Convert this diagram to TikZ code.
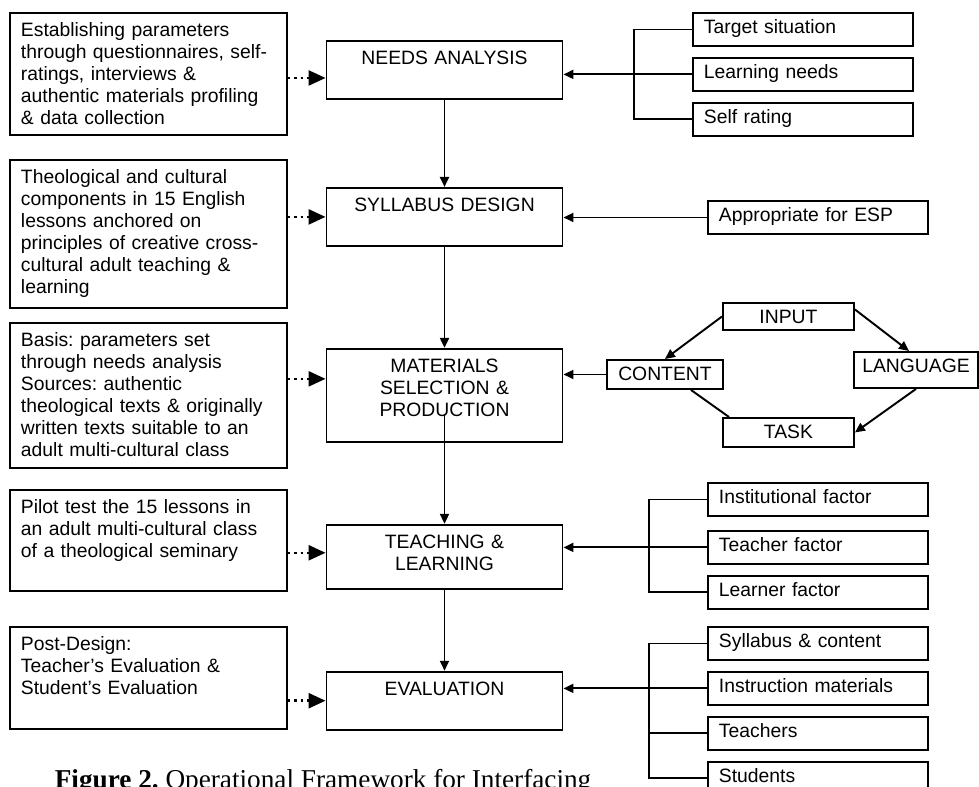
\documentclass[tikz,border=0pt]{standalone}
\usepackage{fontspec}
\setmainfont{Liberation Sans}
\newfontfamily\captionserif{Liberation Serif}
\usetikzlibrary{arrows.meta, positioning}
\frenchspacing

\begin{document}
\begin{tikzpicture}[
  line width=1.1pt,
  every node/.style={font=\fontsize{11}{12.5}\selectfont},
  stagebox/.style={draw, text width=4.3cm, align=center, inner xsep=0.21cm,
                   inner ysep=0pt, text height=0.47cm, anchor=north},
  notebox/.style={draw, text width=5.1cm, align=left, inner xsep=0.22cm,
                  inner ysep=0pt, text height=0.48cm, anchor=north west},
  itembox/.style={draw, text width=3.96cm, align=left, inner xsep=0.22cm,
                  inner ysep=0pt, text height=0.42cm, text depth=0.24cm,
                  anchor=north west},
  cycbox/.style={draw, align=center, inner ysep=0pt, text height=0.42cm,
                 anchor=north west},
  arr/.style={-{Triangle[length=0.2cm, width=0.18cm]}},
  dotarr/.style={line width=1.4pt, dash pattern=on 1.4pt off 2.2pt,
                 -{Triangle[length=0.34cm, width=0.3cm]}}
]
\clip (0,0) rectangle (19.58,-15.72);

% main stages
\node[stagebox, text depth=0.69cm] (N1) at (8.89,-0.80) {NEEDS ANALYSIS};
\node[stagebox, text depth=0.69cm, below=1.74cm of N1] (N2) {SYLLABUS DESIGN};
\node[stagebox, text depth=1.39cm, below=2.02cm of N2] (N3) {MATERIALS\\ SELECTION \&\\ PRODUCTION};
\node[stagebox, text depth=0.81cm, below=1.62cm of N3] (N4) {TEACHING \&\\ LEARNING};
\node[stagebox, text depth=0.69cm, below=1.62cm of N4] (N5) {EVALUATION};

% notes on the left
\node[notebox, text depth=1.96cm] (L1) at (0.18,-0.24)
  {Establishing parameters\\ through questionnaires, self-\\ ratings, interviews \&\\ authentic materials profiling\\ \& data collection};
\node[notebox, text depth=2.48cm] (L2) at (0.18,-3.18)
  {Theological and cultural\\ components in 15 English\\ lessons anchored on\\ principles of creative cross-\\ cultural adult teaching \&\\ learning};
\node[notebox, text depth=2.42cm] (L3) at (0.18,-6.44)
  {Basis: parameters set\\ through needs analysis\\ Sources: authentic\\ theological texts \& originally\\ written texts suitable to an\\ adult multi-cultural class};
\node[notebox, text depth=1.54cm] (L4) at (0.18,-9.78)
  {Pilot test the 15 lessons in\\ an adult multi-cultural class\\ of a theological seminary};
\node[notebox, text depth=1.56cm] (L5) at (0.18,-12.52)
  {Post-Design:\\ Teacher's Evaluation \&\\ Student's Evaluation};

% items on the right
\node[itembox] (Tgt) at (13.84,-0.24) {Target situation};
\node[itembox, below=0.2cm of Tgt] (Learn) {Learning needs};
\node[itembox, below=0.2cm of Learn] (Self) {Self rating};
\node[itembox] (ESP) at (14.14,-4.00) {Appropriate for ESP};
\node[itembox] (Inst) at (14.14,-9.64) {Institutional factor};
\node[itembox, below=0.26cm of Inst] (Tchf) {Teacher factor};
\node[itembox, below=0.2cm of Tchf] (Lrn) {Learner factor};
\node[itembox] (Syll) at (14.14,-12.52) {Syllabus \& content};
\node[itembox, below=0.2cm of Syll] (Instr) {Instruction materials};
\node[itembox, below=0.2cm of Instr] (Tchs) {Teachers};
\node[itembox, below=0.2cm of Tchs] (Stud) {Students};

% materials cycle
\node[cycbox, minimum width=2.62cm, text depth=0.12cm] (In) at (14.44,-6.04) {INPUT};
\node[cycbox, minimum width=2.32cm, text depth=0.16cm] (Cont) at (12.12,-7.18) {CONTENT};
\node[cycbox, minimum width=2.48cm, text depth=0.30cm] (Lang) at (17.06,-7.02) {LANGUAGE};
\node[cycbox, minimum width=2.62cm, text depth=0.16cm] (Task) at (14.44,-8.34) {TASK};

\coordinate (nb) at (12.68,0);
\coordinate (tb) at (12.98,0);

% flow down the middle
\draw[arr] (N1.south) -- (N2.north);
\draw[arr] (N2.south) -- (N3.north);
\draw[arr] ([yshift=0.58cm]N3.south) -- (N4.north);
\draw[arr] (N4.south) -- (N5.north);

% dotted links from the notes
\draw[dotarr] ([yshift=-0.16cm]N1.west -| L1.east) -- ([yshift=-0.16cm]N1.west);
\draw[dotarr] (N2.west -| L2.east) -- (N2.west);
\draw[dotarr] ([yshift=0.33cm]N3.west -| L3.east) -- ([yshift=0.33cm]N3.west);
\draw[dotarr] ([yshift=0.08cm]N4.west -| L4.east) -- ([yshift=0.08cm]N4.west);
\draw[dotarr] (N5.west -| L5.east) -- (N5.west);

% brackets on the right
\draw (Tgt.west) -- (Tgt.west -| nb) -- (Self.west -| nb) -- (Self.west);
\draw[arr] (Learn.west) -- (Learn.west -| N1.east);
\draw[arr] (ESP.west) -- (ESP.west -| N2.east);
\draw[arr] (Cont.west) -- (Cont.west -| N3.east);
\draw (Inst.west) -- (Inst.west -| tb) -- (Lrn.west -| tb) -- (Lrn.west);
\draw[arr] (Tchf.west) -- (Tchf.west -| N4.east);
\draw (Syll.west) -- (Syll.west -| tb) -- (Stud.west -| tb) -- (Stud.west);
\draw (Tchs.west) -- (Tchs.west -| tb);
\draw[arr] (Instr.west) -- (Instr.west -| N5.east);

% cycle
\draw[arr] (In.west) -- (Cont.north);
\draw[arr] ([yshift=0.14cm]In.east) -- ([xshift=-0.14cm]Lang.north);
\draw[arr] (Lang.south) -- (Task.east);
\draw ([xshift=0.52cm]Cont.south) -- ([xshift=0.14cm]Task.north west);

\node[font=\captionserif\fontsize{15.5}{18}\selectfont, anchor=base west] (cap)
  at (0.96,-15.76) {\textbf{Figure 2.} Operational Framework for Interfacing};
\end{tikzpicture}
\end{document}
